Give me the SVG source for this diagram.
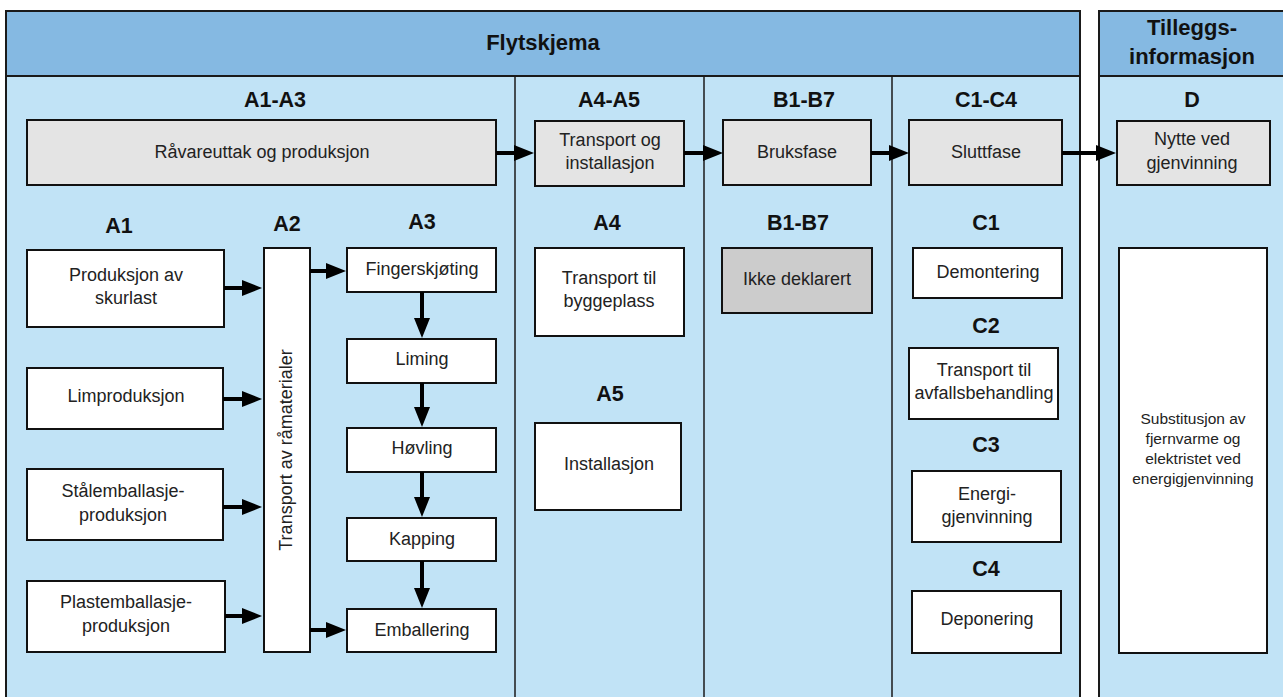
<svg xmlns="http://www.w3.org/2000/svg" width="1283" height="697" viewBox="0 0 1283 697">
<style>
.hdr{fill:#85b9e2;stroke:#1a1a1a;stroke-width:2}
.body{fill:#c1e3f6;stroke:#1a1a1a;stroke-width:2}
.div{stroke:#1a1a1a;stroke-width:1.5}
.box{fill:#ffffff;stroke:#111;stroke-width:2}
.gbox{fill:#e4e4e4;stroke:#111;stroke-width:2}
.dbox{fill:#cccccc;stroke:#111;stroke-width:2}
.t{font-family:"Liberation Sans",Arial,sans-serif;font-size:18px;fill:#222;text-anchor:middle}
.s{font-family:"Liberation Sans",Arial,sans-serif;font-size:15.5px;fill:#222;text-anchor:middle}
.b{font-family:"Liberation Sans",Arial,sans-serif;font-size:21.5px;font-weight:bold;fill:#111;text-anchor:middle}
.h{font-family:"Liberation Sans",Arial,sans-serif;font-size:22px;font-weight:bold;fill:#111;text-anchor:middle}
.c line{stroke:#000;stroke-width:4;marker-end:url(#ah)}
</style>
<defs>
<marker id="ah" viewBox="0 0 20 16" refX="0" refY="8" markerWidth="20" markerHeight="16" markerUnits="userSpaceOnUse" orient="auto">
<path d="M0,0 L20,8 L0,16 z" fill="#000"/>
</marker>
</defs>
<rect width="1283" height="697" fill="#ffffff"/>
<g id="frame-flytskjema">
<rect class="body" x="6" y="76" width="1074" height="630"/>
<rect class="hdr" x="6" y="11" width="1074" height="65"/>
<line class="div" x1="515" y1="76" x2="515" y2="697"/>
<line class="div" x1="704" y1="76" x2="704" y2="697"/>
<line class="div" x1="892" y1="76" x2="892" y2="697"/>
<text class="h" x="543" y="50">Flytskjema</text>
<text class="b" x="275" y="107">A1-A3</text>
<text class="b" x="609" y="107">A4-A5</text>
<text class="b" x="804" y="107">B1-B7</text>
<text class="b" x="986" y="107">C1-C4</text>
<text class="b" x="119" y="233">A1</text>
<text class="b" x="287" y="231">A2</text>
<text class="b" x="422" y="229">A3</text>
<text class="b" x="607" y="230">A4</text>
<text class="b" x="610" y="401">A5</text>
<text class="b" x="798" y="230">B1-B7</text>
<text class="b" x="986" y="230">C1</text>
<text class="b" x="986" y="333">C2</text>
<text class="b" x="986" y="452">C3</text>
<text class="b" x="986" y="576">C4</text>
</g>
<g id="frame-tillegg">
<rect class="body" x="1099" y="76" width="190" height="630"/>
<rect class="hdr" x="1099" y="11" width="190" height="65"/>
<text class="h" x="1192" y="35">Tilleggs-</text>
<text class="h" x="1192" y="64">informasjon</text>
<text class="b" x="1192" y="107">D</text>
</g>
<g id="n-raavare"><rect class="gbox" x="27" y="120" width="469" height="65"/><text class="t" x="262" y="158">Råvareuttak og produksjon</text></g>
<g id="n-transport-inst"><rect class="gbox" x="535" y="121" width="149" height="65"/><text class="t" x="610" y="146">Transport og</text><text class="t" x="610" y="169">installasjon</text></g>
<g id="n-bruksfase"><rect class="gbox" x="723" y="120" width="148" height="65"/><text class="t" x="797" y="158">Bruksfase</text></g>
<g id="n-sluttfase"><rect class="gbox" x="909" y="120" width="153" height="65"/><text class="t" x="986" y="158">Sluttfase</text></g>
<g id="n-nytte"><rect class="gbox" x="1117" y="121" width="153" height="64"/><text class="t" x="1192" y="145">Nytte ved</text><text class="t" x="1192" y="169">gjenvinning</text></g>
<g id="n-skurlast"><rect class="box" x="27" y="250" width="197" height="77"/><text class="t" x="126" y="281">Produksjon av</text><text class="t" x="126" y="304">skurlast</text></g>
<g id="n-lim"><rect class="box" x="27" y="368" width="196" height="61"/><text class="t" x="126" y="402">Limproduksjon</text></g>
<g id="n-staal"><rect class="box" x="27" y="469" width="196" height="71"/><text class="t" x="123" y="497">Stålemballasje-</text><text class="t" x="123" y="521">produksjon</text></g>
<g id="n-plast"><rect class="box" x="27" y="581" width="198" height="71"/><text class="t" x="126" y="608">Plastemballasje-</text><text class="t" x="126" y="632">produksjon</text></g>
<g id="n-transport-raa"><rect class="box" x="264" y="248" width="46" height="404"/><text class="t" transform="translate(292,450) rotate(-90)">Transport av råmaterialer</text></g>
<g id="n-finger"><rect class="box" x="347" y="248" width="149" height="44"/><text class="t" x="422" y="275">Fingerskjøting</text></g>
<g id="n-liming"><rect class="box" x="347" y="339" width="149" height="44"/><text class="t" x="422" y="365">Liming</text></g>
<g id="n-hovling"><rect class="box" x="347" y="428" width="149" height="44"/><text class="t" x="422" y="454">Høvling</text></g>
<g id="n-kapping"><rect class="box" x="347" y="518" width="149" height="43"/><text class="t" x="422" y="545">Kapping</text></g>
<g id="n-emballering"><rect class="box" x="347" y="609" width="149" height="43"/><text class="t" x="422" y="636">Emballering</text></g>
<g id="n-transport-bygg"><rect class="box" x="535" y="248" width="149" height="88"/><text class="t" x="609" y="284">Transport til</text><text class="t" x="609" y="307">byggeplass</text></g>
<g id="n-installasjon"><rect class="box" x="535" y="423" width="146" height="87"/><text class="t" x="609" y="470">Installasjon</text></g>
<g id="n-ikke"><rect class="dbox" x="722" y="248" width="150" height="65"/><text class="t" x="797" y="285">Ikke deklarert</text></g>
<g id="n-demontering"><rect class="box" x="913" y="248" width="149" height="50"/><text class="t" x="988" y="278">Demontering</text></g>
<g id="n-transport-avfall"><rect class="box" x="909" y="348" width="149" height="71"/><text class="t" x="984" y="376">Transport til</text><text class="t" x="984" y="399">avfallsbehandling</text></g>
<g id="n-energi"><rect class="box" x="912" y="471" width="149" height="71"/><text class="t" x="987" y="500">Energi-</text><text class="t" x="987" y="523">gjenvinning</text></g>
<g id="n-deponering"><rect class="box" x="912" y="591" width="149" height="62"/><text class="t" x="987" y="625">Deponering</text></g>
<g id="n-substitusjon"><rect class="box" x="1119" y="248" width="148" height="405"/><text class="s" x="1193" y="424">Substitusjon av</text><text class="s" x="1193" y="444">fjernvarme og</text><text class="s" x="1193" y="464">elektristet ved</text><text class="s" x="1193" y="484">energigjenvinning</text></g>
<g id="connectors" class="c">
<line x1="496" y1="153" x2="514" y2="153"/>
<line x1="684" y1="153" x2="703" y2="153"/>
<line x1="871" y1="153" x2="889" y2="153"/>
<line x1="1062" y1="153" x2="1096" y2="153"/>
<line x1="224" y1="288" x2="242" y2="288"/>
<line x1="223" y1="399" x2="242" y2="399"/>
<line x1="223" y1="507" x2="242" y2="507"/>
<line x1="225" y1="616" x2="242" y2="616"/>
<line x1="310" y1="271" x2="326" y2="271"/>
<line x1="310" y1="630" x2="326" y2="630"/>
<line x1="422" y1="292" x2="422" y2="318"/>
<line x1="422" y1="383" x2="422" y2="407"/>
<line x1="422" y1="472" x2="422" y2="497"/>
<line x1="422" y1="561" x2="422" y2="588"/>
</g>
</svg>
